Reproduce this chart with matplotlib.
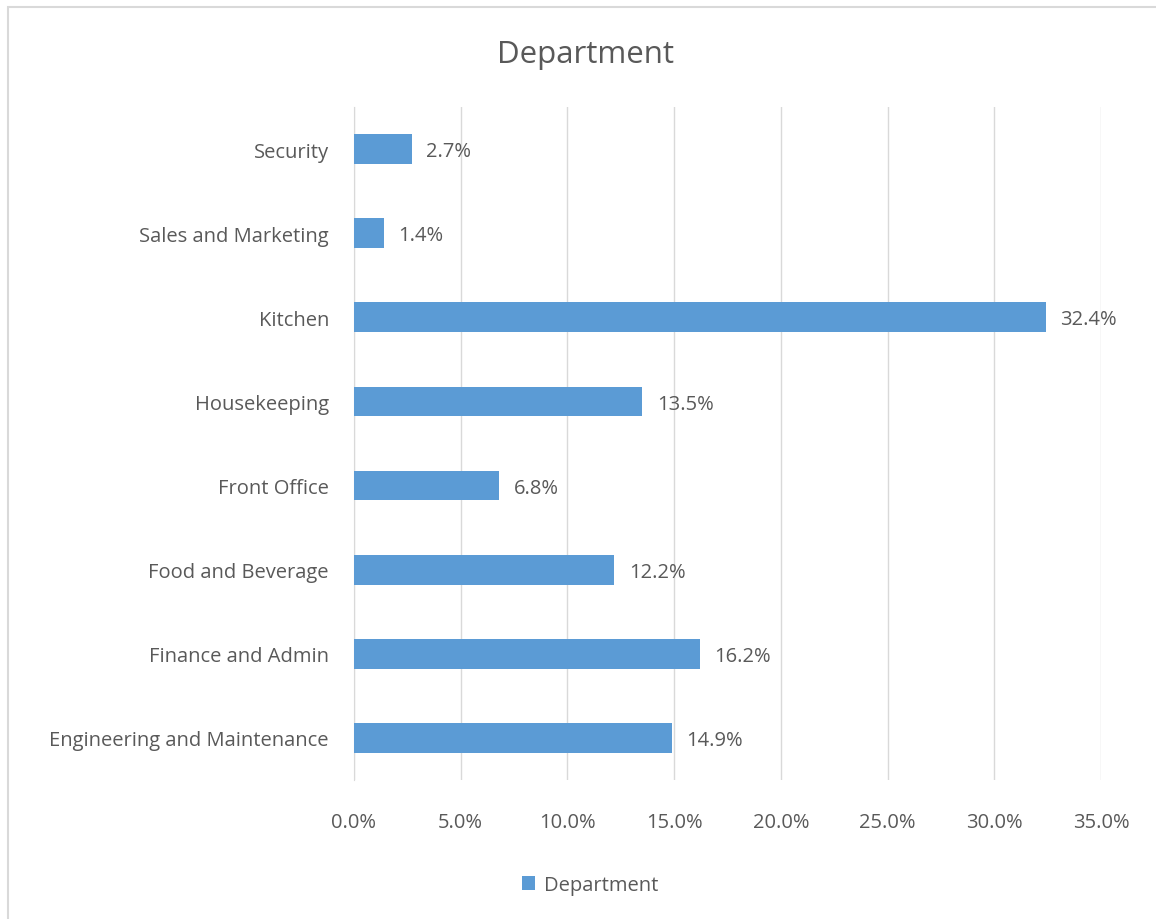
import matplotlib
matplotlib.use("Agg")
import matplotlib.pyplot as plt
from matplotlib.patches import Rectangle

categories = ["Engineering and Maintenance", "Finance and Admin", "Food and Beverage",
              "Front Office", "Housekeeping", "Kitchen", "Sales and Marketing", "Security"]
values = [14.9, 16.2, 12.2, 6.8, 13.5, 32.4, 1.4, 2.7]
xticks = [0, 5, 10, 15, 20, 25, 30, 35]

bar_color = "#5B9BD5"
text_color = "#595959"
fs = 14.5
plt.rcParams["font.family"] = ["Open Sans", "DejaVu Sans"]

fig = plt.figure(figsize=(11.56, 9.2), dpi=100)
ax = fig.add_axes([354 / 1156, 1 - 781 / 920, (1101 - 354) / 1156, (781 - 108) / 920])

ypos = range(len(categories))
ax.barh(ypos, values, height=0.355, color=bar_color, zorder=3, label="Department")
for y, v in zip(ypos, values):
    ax.annotate(f"{v:.1f}%", (v, y), xytext=(10.5, -1.5), textcoords="offset points",
                va="center", ha="left", fontsize=fs, color=text_color)

ax.set_xlim(0, 35)
ax.set_ylim(-0.5, len(categories) - 0.5)
ax.set_xticks(xticks)
ax.set_xticklabels([f"{t:.1f}%" for t in xticks], fontsize=fs, color=text_color)
ax.set_yticks(list(ypos))
ax.set_yticklabels(categories, fontsize=fs, color=text_color)
ax.tick_params(axis="both", length=0)
ax.tick_params(axis="x", pad=23)
ax.tick_params(axis="y", pad=18)
ax.grid(axis="x", color="#D9D9D9", linewidth=1, zorder=0)
for s in ["top", "right", "bottom"]:
    ax.spines[s].set_visible(False)
ax.spines["left"].set_color("#D9D9D9")

fig.text(585 / 1156, 1 - 55 / 920, "Department", ha="center", va="center",
         fontsize=22.5, color=text_color)

leg = fig.legend(loc="center", bbox_to_anchor=(590 / 1156, 1 - 886 / 920), frameon=False,
                 fontsize=fs, handlelength=0.65, handleheight=0.65, handletextpad=0.45)
for t in leg.get_texts():
    t.set_color(text_color)

fig.patches.append(Rectangle((8 / 1156, -0.05), 1.1, 1 - 8 / 920 + 0.05,
                             transform=fig.transFigure, fill=False,
                             edgecolor="#D9D9D9", linewidth=1.5))

fig.savefig("out.png", dpi=100)
